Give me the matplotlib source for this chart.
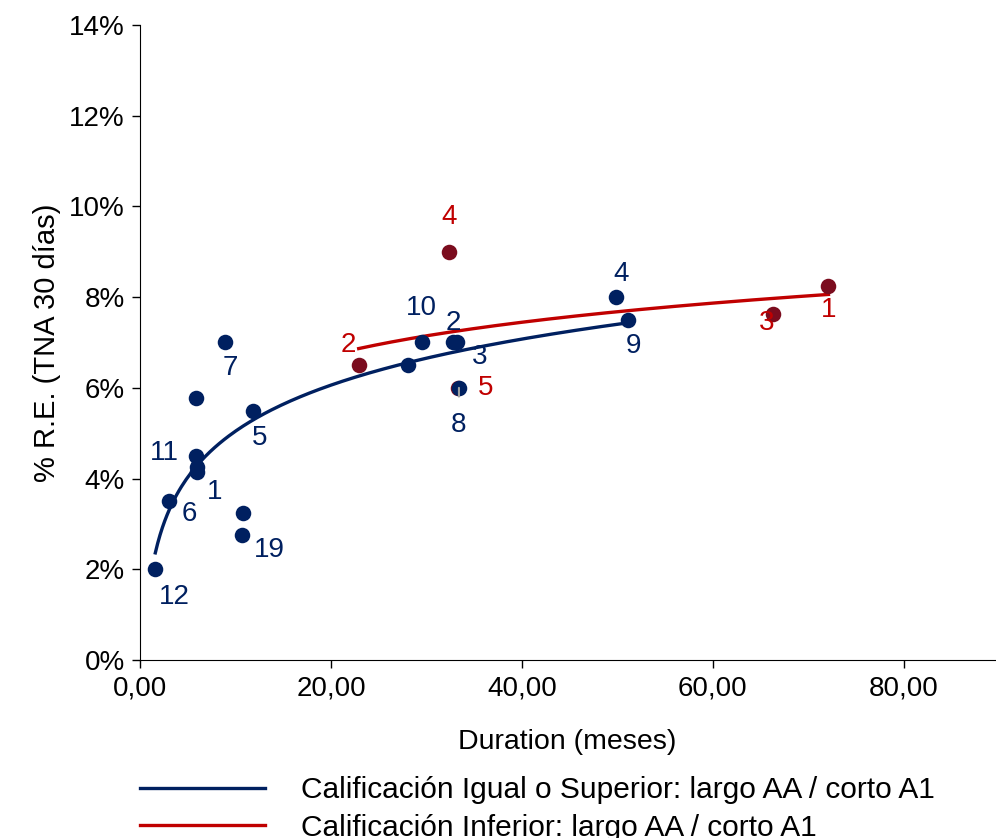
import numpy as np
import matplotlib.pyplot as plt

plt.rcParams['font.family'] = ['Liberation Sans', 'DejaVu Sans']

# Calificación igual o superior (azul)
blue_x = [1.6, 3.0, 5.9, 5.9, 6.0, 6.0, 8.9, 11.8, 10.8, 10.7, 28.1, 29.5, 32.8, 33.2, 33.4, 49.9, 51.1]
blue_y = [2.0, 3.5, 5.77, 4.5, 4.25, 4.15, 7.0, 5.5, 3.25, 2.75, 6.5, 7.0, 7.0, 7.0, 6.0, 8.0, 7.5]
blue_lab = ['12', '6', '', '11', '', '1', '7', '5', '', '19', '', '10', '2', '3', '8', '4', '9']
# offsets de etiquetas en pixeles
blue_off = [(19, -28), (21, -13), (0, 0), (-32, 3), (0, 0), (17, -20), (5, -26), (7, -27), (0, 0),
            (27, -15), (0, 0), (0, 34), (0, 19), (23, -15), (0, -37), (5, 23), (6, -26)]

# Calificación inferior (rojo)
red_x = [22.9, 32.4, 33.3, 66.3, 72.1]
red_y = [6.5, 9.0, 6.0, 7.63, 8.25]
red_lab = ['2', '4', '5', '3', '1']
red_off = [(-10, 20), (0, 35), (28, 0), (-6, -9), (0, -24)]

navy = '#002060'
maroon = '#7B0C1E'
red = '#C00000'

fig = plt.figure(figsize=(9.96, 8.38), dpi=100)
ax = fig.add_axes([0.1406, 0.2124, 0.858, 0.7578])

ax.scatter(red_x, red_y, s=125, color=maroon, zorder=3, linewidths=0)
ax.scatter(blue_x, blue_y, s=125, color=navy, zorder=4, linewidths=0)

# lineas de tendencia logaritmicas
b1, a1 = np.polyfit(np.log(blue_x), blue_y, 1)
xs = np.linspace(min(blue_x), max(blue_x), 200)
l1, = ax.plot(xs, a1 + b1 * np.log(xs), color=navy, lw=2.4, zorder=2,
              label='Calificación Igual o Superior: largo AA / corto A1')
b2, a2 = np.polyfit(np.log(red_x), red_y, 1)
xs2 = np.linspace(min(red_x), max(red_x), 200)
l2, = ax.plot(xs2, a2 + b2 * np.log(xs2), color=red, lw=2.4, zorder=2,
              label='Calificación Inferior: largo AA / corto A1')

for x, y, t, o in zip(blue_x, blue_y, blue_lab, blue_off):
    if not t:
        continue
    if t == '8':
        ax.annotate(t, (x, y), xytext=o, textcoords='offset pixels', ha='center', va='center',
                    fontsize=20, color=navy, zorder=5,
                    arrowprops=dict(arrowstyle='-', color='#A0A0A0', lw=1.5, shrinkA=9, shrinkB=0))
    else:
        ax.annotate(t, (x, y), xytext=o, textcoords='offset pixels', ha='center', va='center',
                    fontsize=20, color=navy, zorder=5)
for x, y, t, o in zip(red_x, red_y, red_lab, red_off):
    ax.annotate(t, (x, y), xytext=o, textcoords='offset pixels', ha='center', va='center',
                fontsize=20, color=red, zorder=5)

ax.set_xlim(0, 89.5)
ax.set_ylim(0, 14)
ax.set_xticks([0, 20, 40, 60, 80])
ax.set_xticklabels(['0,00', '20,00', '40,00', '60,00', '80,00'])
ax.set_yticks(range(0, 15, 2))
ax.set_yticklabels([f'{v}%' for v in range(0, 15, 2)])
ax.tick_params(labelsize=20, direction='out', length=6, width=1, colors='black', pad=5)
for s in ['top', 'right']:
    ax.spines[s].set_visible(False)
ax.set_xlabel('Duration (meses)', fontsize=20.5, labelpad=20)
ax.set_ylabel('% R.E. (TNA 30 días)', fontsize=21, labelpad=6)

fig.legend(handles=[l1, l2], loc='upper left', bbox_to_anchor=(0.1406, 0.074),
           frameon=False, fontsize=21.5, handlelength=4.2, handletextpad=1.2,
           labelspacing=0.32, borderaxespad=0, borderpad=0)

fig.savefig('out.png', dpi=100)
